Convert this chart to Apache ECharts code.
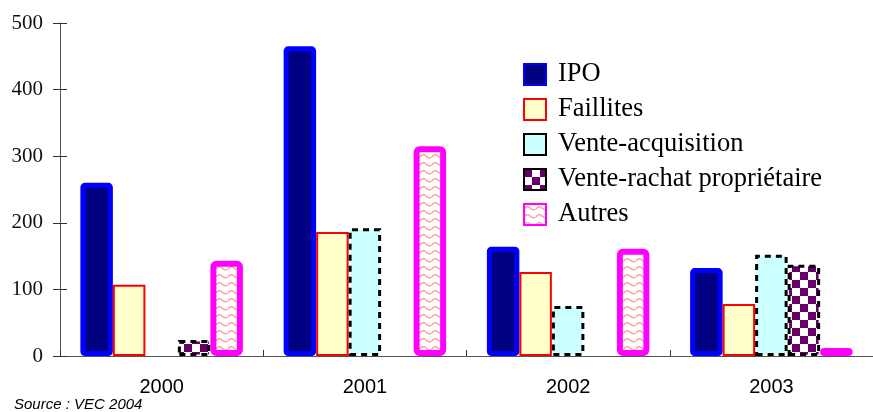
<!DOCTYPE html>
<html>
<head>
<meta charset="utf-8">
<script src="https://cdn.jsdelivr.net/npm/echarts@6/dist/echarts.min.js"></script>
<style>
    html, body {margin: 0; padding: 0; background: #fff;}
    #chart {width: 873px; height: 412px;}
</style>
</head>
<body>
<div id="chart"></div>
<script>
const years = ['2000', '2001', '2002', '2003'];
const yTicks = [0, 100, 200, 300, 400, 500];
const seriesNames = ['IPO', 'Faillites', 'Vente-acquisition', 'Vente-rachat propriétaire', 'Autres'];
const ipo = [260, 465, 164, 132];
const faillites = [107, 186, 126, 78];
const venteAcquisition = [null, 192, 75, 152];
const venteRachat = [24, null, null, 137];
const autres = [143, 315, 161, 12];

function checkerPattern() {
    const c = document.createElement('canvas');
    c.width = 16;
    c.height = 16;
    const ctx = c.getContext('2d');
    ctx.fillStyle = '#ffffff';
    ctx.fillRect(0, 0, 16, 16);
    ctx.fillStyle = '#660066';
    ctx.fillRect(0, 0, 8, 8);
    ctx.fillRect(8, 8, 8, 8);
    return {image: c, repeat: 'repeat'};
}

function wavePattern() {
    const c = document.createElement('canvas');
    c.width = 12;
    c.height = 8;
    const ctx = c.getContext('2d');
    ctx.fillStyle = '#ffffff';
    ctx.fillRect(0, 0, 12, 8);
    ctx.strokeStyle = '#ff9999';
    ctx.lineWidth = 1.3;
    ctx.beginPath();
    ctx.moveTo(0, 5);
    ctx.quadraticCurveTo(3, 1, 6, 4);
    ctx.quadraticCurveTo(9, 7, 12, 5);
    ctx.stroke();
    return {image: c, repeat: 'repeat'};
}

const styles = [
    {color: '#000080', borderColor: '#0000ff', borderWidth: 5, borderRadius: 2},
    {color: '#ffffcc', borderColor: '#ff0000', borderWidth: 2},
    {color: '#ccffff', borderColor: '#000000', borderWidth: 3, borderType: [6, 5]},
    {color: checkerPattern(), borderColor: '#000000', borderWidth: 3, borderType: [6, 5]},
    {color: wavePattern(), borderColor: '#ff00ff', borderWidth: 6, borderRadius: 3}
];
const values = [ipo, faillites, venteAcquisition, venteRachat, autres];

const seriesData = [];
for (let i = 0; i < seriesNames.length; i++) {
    seriesData.push({
        name: seriesNames[i],
        type: 'bar',
        barWidth: 32.5,
        barGap: '0%',
        itemStyle: styles[i],
        data: values[i]
    })
}

const chart = echarts.init(document.getElementById('chart'));
const option = {
    backgroundColor: '#ffffff',
    animation: false,
    grid: {
        left: 60,
        top: 23,
        bottom: 56,
        width: 822,
        containLabel: false
    },
    legend: {
        orient: 'vertical',
        left: 523,
        top: 61,
        padding: 0,
        icon: 'rect',
        itemWidth: 22,
        itemHeight: 21,
        itemGap: 8,
        data: seriesNames,
        textStyle: {
            fontFamily: 'Liberation Serif',
            fontSize: 26.5,
            lineHeight: 25,
            color: '#000',
            padding: [0, 0, 0, 7]
        }
    },
    xAxis: {
        type: 'category',
        data: years,
        axisLine: {lineStyle: {color: '#555', width: 1}},
        axisTick: {show: true, inside: true, length: 6, lineStyle: {color: '#333'}},
        axisLabel: {
            fontFamily: 'Liberation Sans',
            fontSize: 20,
            color: '#000',
            margin: 21
        }
    },
    yAxis: [
        {
            type: 'value',
            min: yTicks[0],
            max: yTicks[yTicks.length - 1],
            interval: 100,
            splitLine: {show: false},
            axisLine: {show: true, lineStyle: {color: '#555', width: 1}},
            axisTick: {show: true, length: 7, lineStyle: {color: '#333'}},
            axisLabel: {
                fontFamily: 'Liberation Serif',
                fontSize: 21,
                color: '#111',
                margin: 17
            }
        },
        {
            // second axis only to get the inner half of the crossing ticks
            type: 'value',
            position: 'left',
            min: yTicks[0],
            max: yTicks[yTicks.length - 1],
            interval: 100,
            splitLine: {show: false},
            axisLine: {show: false},
            axisTick: {show: true, inside: true, length: 7, lineStyle: {color: '#333'}},
            axisLabel: {show: false}
        }
    ],
    graphic: [
        {
            type: 'text',
            left: 14,
            top: 397,
            style: {
                text: 'Source : VEC 2004',
                fontFamily: 'Liberation Sans',
                fontStyle: 'italic',
                fontSize: 15,
                fill: '#000'
            }
        }
    ],
    series: seriesData
};

option && chart.setOption(option);
</script>
</body>
</html>
